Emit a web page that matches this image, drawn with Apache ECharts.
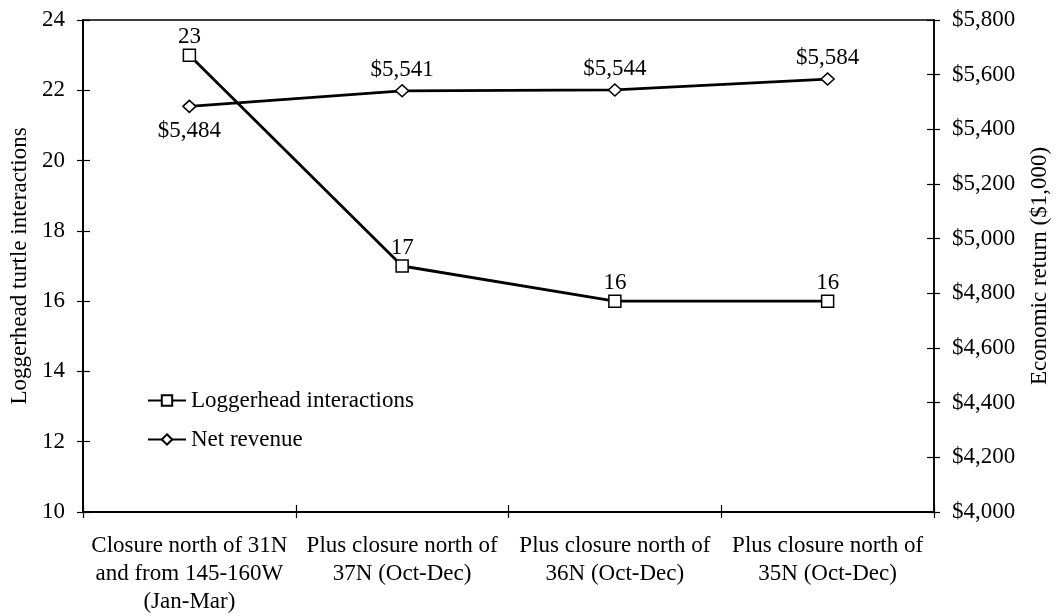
<!DOCTYPE html>
<html>
<head>
<meta charset="utf-8">
<script src="https://cdn.jsdelivr.net/npm/echarts@6/dist/echarts.min.js"></script>
<style>
  html, body { margin: 0; padding: 0; background: #fff; }
  #chart { width: 1059px; height: 616px; }
</style>
</head>
<body>
<div id="chart"></div>
<script>
// data
var categories = [
    'Closure north of 31N\nand from 145-160W\n(Jan-Mar)',
    'Plus closure north of\n37N (Oct-Dec)',
    'Plus closure north of\n36N (Oct-Dec)',
    'Plus closure north of\n35N (Oct-Dec)'
];
var interactions = [23, 17, 16, 16];
var revenue = [5484, 5541, 5544, 5584];
var revenueLabelPos = ['bottom', 'top', 'top', 'top'];

var font = 'Liberation Serif';
var black = '#000';
var fs = 23;

function money(v) {
    return '$' + v.toLocaleString('en-US');
}

var chart = echarts.init(document.getElementById('chart'));

var option = {
    backgroundColor: '#fff',
    animation: false,
    textStyle: { fontFamily: font, color: black },
    grid: {
        left: 82, right: 117, top: 20, bottom: 103,
        show: true, borderColor: black, borderWidth: 1.5
    },
    legend: {
        orient: 'vertical',
        left: 147, top: 389,
        padding: 0,
        itemWidth: 38, itemHeight: 13,
        itemGap: 16,
        textStyle: { fontFamily: font, fontSize: fs, color: black },
        data: ['Loggerhead interactions', 'Net revenue']
    },
    xAxis: [
        {
            type: 'category',
            data: categories,
            boundaryGap: true,
            axisLine: { lineStyle: { color: black, width: 2 } },
            axisTick: { show: true, length: 6, lineStyle: { color: black, width: 1.2 } },
            axisLabel: {
                fontFamily: font, fontSize: fs, color: black,
                lineHeight: 28, margin: 20, interval: 0
            }
        },
        {
            // second axis only for the inward half of the crossing ticks
            type: 'category',
            data: categories,
            position: 'bottom',
            boundaryGap: true,
            axisLine: { show: false },
            axisTick: { show: true, inside: true, length: 7, lineStyle: { color: black, width: 1.2 } },
            axisLabel: { show: false }
        }
    ],
    yAxis: [
        {
            type: 'value',
            min: 10, max: 24, interval: 2,
            name: 'Loggerhead turtle interactions',
            nameLocation: 'middle',
            nameGap: 52,
            nameTextStyle: { fontFamily: font, fontSize: fs, color: black },
            axisLine: { show: true, lineStyle: { color: black, width: 2 } },
            axisTick: { show: true, length: 6, lineStyle: { color: black, width: 1.2 } },
            axisLabel: { fontFamily: font, fontSize: fs, color: black, margin: 18 },
            splitLine: { show: false }
        },
        {
            type: 'value',
            min: 4000, max: 5800, interval: 200,
            position: 'right',
            name: 'Economic return ($1,000)',
            nameLocation: 'middle',
            nameGap: 94,
            nameRotate: 90,
            nameTextStyle: { fontFamily: font, fontSize: fs, color: black },
            axisLine: { show: true, lineStyle: { color: black, width: 1.5 } },
            axisTick: { show: true, length: 6, lineStyle: { color: black, width: 1.2 } },
            axisLabel: {
                fontFamily: font, fontSize: fs, color: black, margin: 18,
                formatter: money
            },
            splitLine: { show: false }
        },
        {
            type: 'value',
            min: 10, max: 24, interval: 2,
            position: 'left',
            axisLine: { show: false },
            axisTick: { show: true, inside: true, length: 7, lineStyle: { color: black, width: 1.2 } },
            axisLabel: { show: false },
            splitLine: { show: false }
        },
        {
            type: 'value',
            min: 4000, max: 5800, interval: 200,
            position: 'right',
            axisLine: { show: false },
            axisTick: { show: true, inside: true, length: 7, lineStyle: { color: black, width: 1.2 } },
            axisLabel: { show: false },
            splitLine: { show: false }
        }
    ],
    series: [
        {
            name: 'Loggerhead interactions',
            type: 'line',
            yAxisIndex: 0,
            data: interactions,
            symbol: 'rect',
            symbolSize: 12,
            showAllSymbol: true,
            z: 3,
            lineStyle: { color: black, width: 2.8 },
            itemStyle: { color: '#fff', borderColor: black, borderWidth: 1.5 },
            label: {
                show: true, position: 'top', distance: 0,
                fontFamily: font, fontSize: fs, color: black
            }
        },
        {
            name: 'Net revenue',
            type: 'line',
            yAxisIndex: 1,
            data: revenue.map(function (v, i) {
                var pos = revenueLabelPos[i];
                return { value: v, label: { position: pos, distance: pos === 'bottom' ? 6 : 3 } };
            }),
            symbol: 'diamond',
            symbolSize: [13, 12],
            showAllSymbol: true,
            z: 2,
            lineStyle: { color: black, width: 2.8 },
            itemStyle: { color: '#fff', borderColor: black, borderWidth: 1.5 },
            label: {
                show: true,
                fontFamily: font, fontSize: fs, color: black,
                formatter: function (p) { return money(p.value); }
            }
        }
    ]
};

chart.setOption(option);
</script>
</body>
</html>
